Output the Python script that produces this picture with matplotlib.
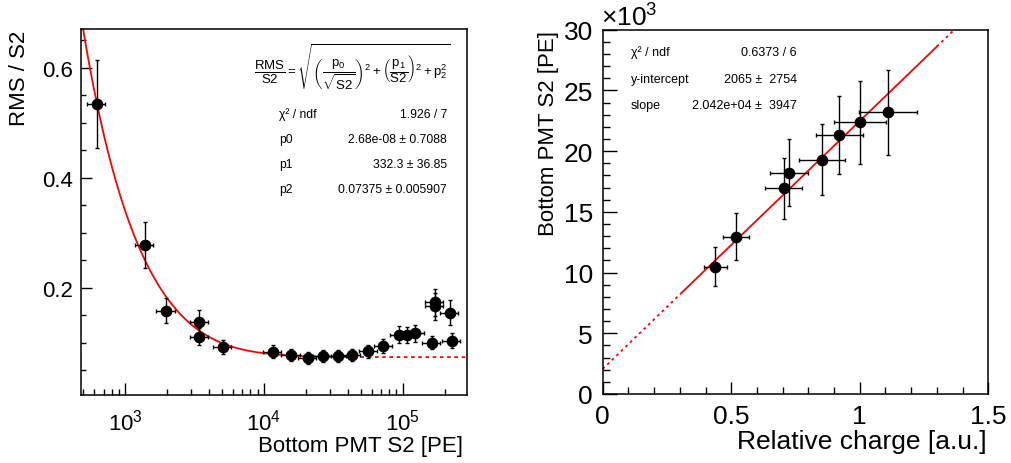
import numpy as np
import matplotlib
matplotlib.use("Agg")
import matplotlib.pyplot as plt
from matplotlib.ticker import MultipleLocator, FuncFormatter, LogLocator, NullFormatter

plt.rcParams['font.family'] = ['Liberation Sans', 'DejaVu Sans']
plt.rcParams['mathtext.fontset'] = 'custom'
plt.rcParams['mathtext.rm'] = 'Liberation Sans'
plt.rcParams['mathtext.it'] = 'Liberation Sans:italic'
plt.rcParams['mathtext.bf'] = 'Liberation Sans:bold'
plt.rcParams['mathtext.sf'] = 'Liberation Sans'

# ---------------- Left panel data: RMS/S2 vs bottom PMT S2 ----------------
s2_pe = [625, 1393, 1974, 3430, 3430, 5058, 11590, 15700, 20700, 26550, 34050,
         42950, 56600, 72600, 94700, 107000, 122800, 162000, 169200, 169200,
         217000, 226000]
rms_ratio = [0.533, 0.278, 0.158, 0.138, 0.111, 0.0924, 0.0839, 0.0773, 0.0724,
             0.0755, 0.0757, 0.0773, 0.0846, 0.0942, 0.1147, 0.1143, 0.117,
             0.100, 0.1735, 0.166, 0.1546, 0.1038]
rms_err = [0.080, 0.042, 0.023, 0.021, 0.016, 0.013, 0.012, 0.011, 0.011, 0.011,
           0.011, 0.011, 0.012, 0.013, 0.015, 0.015, 0.016, 0.012, 0.025, 0.025,
           0.023, 0.014]
s2_xerr_rel = [0.15, 0.15, 0.16, 0.15, 0.15, 0.15, 0.15, 0.15, 0.15, 0.15, 0.15,
               0.15, 0.15, 0.15, 0.15, 0.15, 0.15, 0.15, 0.15, 0.15, 0.15, 0.15]
fit1_p0, fit1_p1, fit1_p2 = 2.68e-08, 332.3, 0.07375
fit1_range_max = 44000
stats1 = [("χ² / ndf", "1.926 / 7"),
          ("p0", "2.68e-08 ± 0.7088"),
          ("p1", "332.3 ± 36.85"),
          ("p2", "0.07375 ± 0.005907")]

# ---------------- Right panel data: S2 vs relative charge ----------------
rel_charge = [0.438, 0.519, 0.704, 0.726, 0.853, 0.921, 1.000, 1.110]
rel_charge_err = [0.044, 0.052, 0.072, 0.074, 0.088, 0.093, 0.102, 0.114]
bottom_s2 = [10490, 12960, 16940, 18230, 19300, 21330, 22370, 23190]
bottom_s2_err = [1600, 1960, 2500, 2760, 2900, 3200, 3400, 3500]
fit2_intercept, fit2_slope = 2065, 20420
fit2_range = (0.31, 1.30)
stats2 = [("χ² / ndf", "0.6373 / 6"),
          ("y-intercept", "2065 ±  2754"),
          ("slope", "2.042e+04 ±  3947")]

W, H = 1011, 464
fig = plt.figure(figsize=(W / 100, H / 100), dpi=100)

def fx(px):
    return px / W

def fy(py):
    return 1 - py / H

# ---------------- Left axes ----------------
ax1 = fig.add_axes([fx(81), fy(396), fx(467 - 81), (396 - 30) / H])
x1 = np.array(s2_pe, dtype=float)
xr = np.array(s2_xerr_rel)
ax1.errorbar(x1, rms_ratio, yerr=rms_err, xerr=[x1 * xr, x1 * xr], fmt='o',
             color='black', ms=7.4, elinewidth=1.0, capsize=1.6, capthick=1.0,
             zorder=3)
xs = np.logspace(np.log10(400), np.log10(fit1_range_max), 600)
f1 = np.sqrt((fit1_p0 / np.sqrt(xs)) ** 2 + (fit1_p1 / xs) ** 2 + fit1_p2 ** 2)
ax1.plot(xs, f1, color='red', lw=1.3, zorder=2)
xs2 = np.logspace(np.log10(fit1_range_max), np.log10(3e5), 100)
f2 = np.sqrt((fit1_p0 / np.sqrt(xs2)) ** 2 + (fit1_p1 / xs2) ** 2 + fit1_p2 ** 2)
ax1.plot(xs2, f2, color='red', lw=1.3, ls=(0, (2, 2)), zorder=2)
ax1.set_xscale('log')
ax1.set_xlim(482, 2.9e5)
ax1.set_ylim(0.005, 0.67)
ax1.yaxis.set_major_locator(MultipleLocator(0.2))
ax1.yaxis.set_minor_locator(MultipleLocator(0.05))
ax1.yaxis.set_major_formatter(FuncFormatter(lambda v, p: f"{v:.1f}"))
ax1.xaxis.set_major_locator(LogLocator(base=10))
ax1.xaxis.set_minor_locator(LogLocator(base=10, subs=np.arange(2, 10)))
ax1.xaxis.set_minor_formatter(NullFormatter())
ax1.tick_params(axis='both', which='both', direction='in', top=False, right=False,
                labelsize=16, width=1.0)
ax1.tick_params(axis='y', which='major', length=8, pad=6)
ax1.tick_params(axis='y', which='minor', length=3.8)
ax1.tick_params(axis='x', which='major', length=8.6, pad=10)
ax1.tick_params(axis='x', which='minor', length=4.3)
for s in ax1.spines.values():
    s.set_linewidth(1.1)
fig.text(fx(463), fy(451.7), "Bottom PMT S2 [PE]", ha='right', va='baseline',
         fontsize=16)
fig.text(fx(9), fy(31), "RMS / S2", ha='left', va='top', rotation=90,
         fontsize=16)

formula = (r'$\dfrac{\mathrm{RMS}}{\mathrm{S2}}=\sqrt{\left(\dfrac{\mathrm{p}_{0}}'
           r'{\sqrt{\mathrm{S2}}}\right)^{2}+\left(\dfrac{\mathrm{p}_{1}}{\mathrm{S2}}'
           r'\right)^{2}+\mathrm{p}_{2}^{2}}$')
fig.text(fx(450), fy(67), formula, ha='right', va='center', fontsize=9.5)
rows1_y = [115, 140, 165, 190]
for (lab, val), yy in zip(stats1, rows1_y):
    fig.text(fx(279), fy(yy), lab, ha='left', va='center', fontsize=8.7)
    fig.text(fx(447), fy(yy), val, ha='right', va='center', fontsize=8.7)

# ---------------- Right axes ----------------
ax2 = fig.add_axes([fx(602.7), fy(395), fx(988.3 - 602.7), (395 - 30.7) / H])
ax2.errorbar(rel_charge, bottom_s2, yerr=bottom_s2_err, xerr=rel_charge_err,
             fmt='o', color='black', ms=7.4, elinewidth=1.0, capsize=1.6,
             capthick=1.0, zorder=3)
xl = np.array([fit2_range[0], fit2_range[1]])
ax2.plot(xl, fit2_intercept + fit2_slope * xl, color='red', lw=1.3, zorder=2)
xd1 = np.array([0.0, fit2_range[0]])
ax2.plot(xd1, fit2_intercept + fit2_slope * xd1, color='red', lw=1.3,
         ls=(0, (1.5, 2)), zorder=2)
xd2 = np.array([fit2_range[1], 1.5])
ax2.plot(xd2, fit2_intercept + fit2_slope * xd2, color='red', lw=1.3,
         ls=(0, (1.5, 2)), zorder=2)
ax2.set_xlim(0, 1.5)
ax2.set_ylim(0, 30000)
ax2.xaxis.set_major_locator(MultipleLocator(0.5))
ax2.xaxis.set_minor_locator(MultipleLocator(0.1))
ax2.yaxis.set_major_locator(MultipleLocator(5000))
ax2.yaxis.set_minor_locator(MultipleLocator(1000))
ax2.xaxis.set_major_formatter(FuncFormatter(lambda v, p: f"{v:g}"))
ax2.yaxis.set_major_formatter(FuncFormatter(lambda v, p: f"{v / 1000:g}"))
ax2.tick_params(axis='both', which='both', direction='in', top=False, right=False,
                labelsize=19, width=1.0)
ax2.tick_params(axis='y', which='major', length=10, pad=7)
ax2.tick_params(axis='y', which='minor', length=5)
ax2.tick_params(axis='x', which='major', length=8.6, pad=7)
ax2.tick_params(axis='x', which='minor', length=5)
for s in ax2.spines.values():
    s.set_linewidth(1.1)
fig.text(fx(987), fy(449.3), "Relative charge [a.u.]", ha='right', va='baseline',
         fontsize=19)
fig.text(fx(538), fy(31), "Bottom PMT S2 [PE]", ha='left', va='top', rotation=90,
         fontsize=16)
fig.text(fx(601), fy(27), r'$\times\mathregular{10^{3}}$', ha='left',
         va='baseline', fontsize=19)
rows2_y = [53, 80, 106]
for (lab, val), yy in zip(stats2, rows2_y):
    fig.text(fx(631), fy(yy), lab, ha='left', va='center', fontsize=9)
    fig.text(fx(797), fy(yy), val, ha='right', va='center', fontsize=9)

fig.savefig("out.png", dpi=100)
